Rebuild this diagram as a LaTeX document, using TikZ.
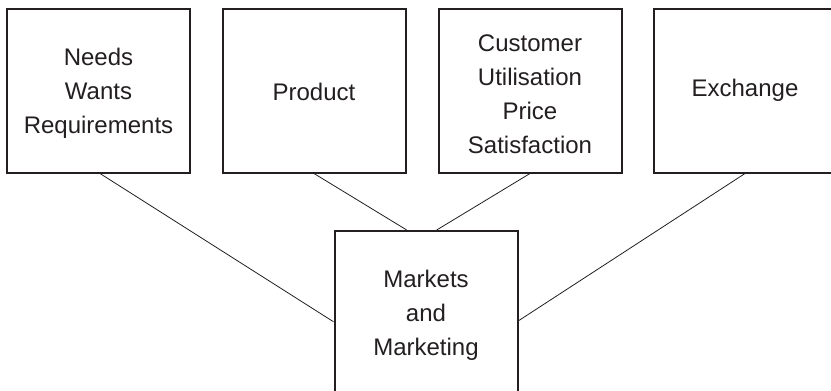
\documentclass[tikz,border=0pt]{standalone}
\usepackage{fontspec}
\setmainfont{Liberation Sans}
\definecolor{ink}{HTML}{231F20}
\begin{document}
\begin{tikzpicture}[x=1pt,y=-1pt,
  conceptbox/.style={draw=ink, line width=2pt, minimum width=183pt,
    minimum height=163.5pt, inner sep=0pt},
  boxtext/.style={align=center, text=ink, inner sep=0pt, yshift=-3pt,
    font=\fontsize{24}{34}\selectfont},
  link/.style={draw=ink, line width=0.8pt}]
  \clip (0,0) rectangle (831,391);
  \fill[white] (0,0) rectangle (831,391);
  % top row of concepts
  \node[conceptbox, label={[boxtext]center:Needs\\Wants\\Requirements}]
    (needs) at (98.5,90.75) {};
  \node[conceptbox, label={[boxtext, yshift=2pt]center:Product}]
    (product) at (314,90.75) {};
  \node[conceptbox, label={[boxtext]center:Customer\\Utilisation\\Price\\Satisfaction}]
    (customer) at (530,90.75) {};
  \node[conceptbox, label={[boxtext, yshift=3pt]center:Exchange}]
    (exchange) at (745,90.75) {};
  % central concept
  \node[conceptbox, label={[boxtext]center:Markets\\and\\Marketing}]
    (markets) at (426,312.75) {};
  % links to the central concept
  \draw[link] ([xshift=1.5pt]needs.south) -- ([yshift=-9pt]markets.west);
  \draw[link] (product.south) -- ([xshift=-19.3pt]markets.north);
  \draw[link] (customer.south) -- ([xshift=10.7pt]markets.north);
  \draw[link] (exchange.south) -- ([yshift=-8pt]markets.east);
\end{tikzpicture}
\end{document}
